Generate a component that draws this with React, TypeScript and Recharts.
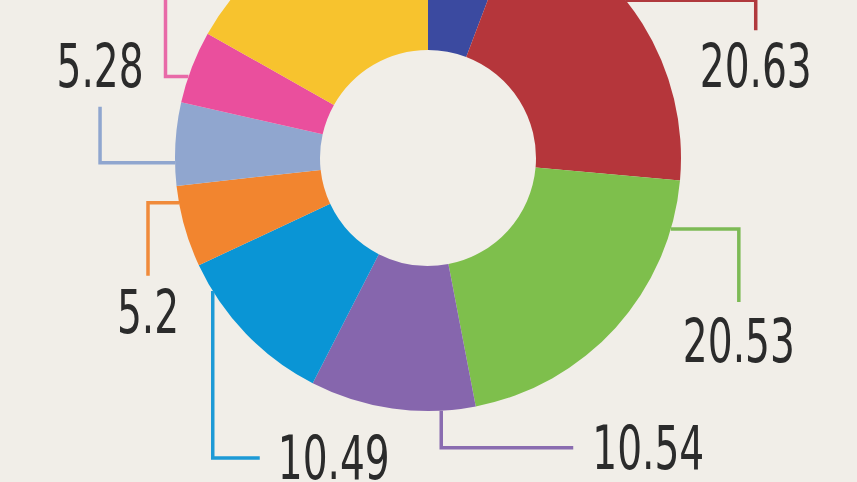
import { PieChart, Pie, Cell } from "recharts";

// slices clockwise from 12 o'clock
const names = ["Dark blue", "Red", "Green", "Purple", "Blue", "Orange", "Light blue", "Pink", "Yellow"];
const values = [5.75, 20.63, 20.53, 10.54, 10.49, 5.2, 5.28, 4.64, 16.8];
const valueLabels = ["", "20.63", "20.53", "10.54", "10.49", "5.2", "5.28", "", ""];

const COLORS = ["#3b4aa0", "#b5363b", "#7ebf4c", "#8666ad", "#0a95d5", "#f2852f", "#90a6cf", "#ea4f9d", "#f7c32e"];
const LINE_COLORS = ["#3b4aa0", "#b0393d", "#7dba55", "#8a6cb0", "#1d9ad6", "#f08a3a", "#90a6cf", "#e86aa8", "#f7c32e"];

type Leader = {
  angle: number; // where the line leaves the ring, degrees clockwise from top
  first: "h" | "v";
  a: number;
  b: number;
  anchor: "middle" | "start";
  dx: number;
  dy: number;
} | null;

const LEADERS: Leader[] = [
  null,
  { angle: 51.4, first: "h", a: 130, b: 30, anchor: "middle", dx: 0, dy: 57 },
  { angle: 106.3, first: "h", a: 68, b: 73, anchor: "middle", dx: 0, dy: 60 },
  { angle: 177, first: "v", a: 37, b: 132, anchor: "start", dx: 19, dy: 21 },
  { angle: 238.3, first: "v", a: 167, b: 47, anchor: "start", dx: 18, dy: 21 },
  { angle: 259.8, first: "h", a: -31, b: 73, anchor: "middle", dx: 0, dy: 57 },
  { angle: 268.9, first: "h", a: -75, b: -56, anchor: "middle", dx: 0, dy: -20 },
  { angle: 288.8, first: "h", a: -23, b: -100, anchor: "middle", dx: 0, dy: -20 },
  null,
];

const data = names.map((name, i) => ({ name, value: values[i] }));

const renderLabel = (props: any) => {
  const { cx, cy, outerRadius, index } = props;
  const l = LEADERS[index];
  if (!l) return null;
  const rad = (l.angle * Math.PI) / 180;
  const x0 = cx + outerRadius * Math.sin(rad);
  const y0 = cy - outerRadius * Math.cos(rad);
  let x1, y1, x2, y2;
  if (l.first === "h") {
    x1 = x0 + l.a; y1 = y0; x2 = x1; y2 = y1 + l.b;
  } else {
    x1 = x0; y1 = y0 + l.a; x2 = x1 + l.b; y2 = y1;
  }
  return (
    <g key={`lbl-${index}`}>
      <polyline
        points={`${x0},${y0} ${x1},${y1} ${x2},${y2}`}
        fill="none"
        stroke={LINE_COLORS[index]}
        strokeWidth={3.5}
      />
      <text
        x={0}
        y={0}
        transform={`translate(${x2 + l.dx},${y2 + l.dy}) scale(0.725,1)`}
        textAnchor={l.anchor}
        fill="#2b2b2b"
        fontSize={60}
        fontFamily="'Liberation Sans Narrow', 'DejaVu Sans Condensed', sans-serif"
      >
        {valueLabels[index]}
      </text>
    </g>
  );
};

const App = () => {
  return (
    <div style={{ position: "fixed", top: 0, left: 0, width: 857, height: 482, background: "#f1eee8", overflow: "hidden" }}>
      <PieChart width={857} height={482} margin={{ top: 0, right: 0, bottom: 0, left: 0 }}>
        <Pie
          data={data}
          dataKey="value"
          cx={428}
          cy={158}
          innerRadius={108}
          outerRadius={253}
          startAngle={90}
          endAngle={-270}
          stroke="none"
          label={renderLabel}
          labelLine={false}
          isAnimationActive={false}
        >
          {data.map((entry, index) => (
            <Cell key={entry.name} fill={COLORS[index]} />
          ))}
        </Pie>
      </PieChart>
    </div>
  );
};

export default App;
